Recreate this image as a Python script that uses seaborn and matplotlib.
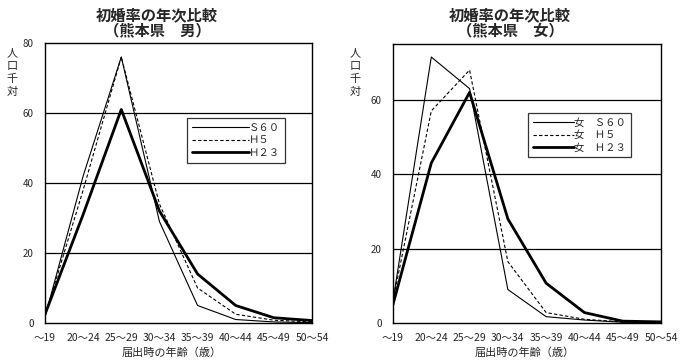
import matplotlib
matplotlib.use("Agg")
import matplotlib.pyplot as plt
import seaborn as sns
import pandas as pd

# age groups (x categories)
ages = ['～19', '20～24', '25～29', '30～34', '35～39', '40～44', '45～49', '50～54']

# male first-marriage rates (per 1000)
male_s60 = [1.7, 42, 76, 29, 5, 1, 0.3, 0.1]
male_h5 = [2, 38, 76, 34, 10, 2.5, 0.8, 0.3]
male_h23 = [2.5, 31, 61, 32, 14, 5, 1.5, 0.7]

# female first-marriage rates (per 1000)
female_s60 = [6, 71.5, 63, 9, 1.7, 0.8, 0.2, 0.1]
female_h5 = [6, 57, 68, 16.5, 2.8, 1, 0.3, 0.1]
female_h23 = [5, 43, 62, 28, 10.7, 2.8, 0.5, 0.3]

male_labels = ['Ｓ６０', 'Ｈ５', 'Ｈ２３']
female_labels = ['女　Ｓ６０', '女　Ｈ５', '女　Ｈ２３']

sns.set_style("white")
plt.rcParams['font.family'] = ['Noto Sans CJK JP', 'DejaVu Sans']

styles = [dict(lw=0.8, ls='-'), dict(lw=0.8, ls=(0, (3, 2))), dict(lw=2.0, ls='-')]


def draw(ax, series, labels, ymax, yticks, legend_box, hlen):
    for vals, lab, st in zip(series, labels, styles):
        df = pd.DataFrame({'pos': range(len(ages)), 'rate': vals})
        sns.lineplot(data=df, x='pos', y='rate', ax=ax, color='black',
                     linewidth=st['lw'], linestyle=st['ls'], label=lab)
    ax.set_xlim(0, len(ages) - 1)
    ax.set_ylim(0, ymax)
    ax.set_xticks(range(len(ages)))
    ax.set_xticklabels(ages, fontsize=7.5)
    ax.set_yticks(yticks)
    ax.set_yticklabels([str(v) for v in yticks], fontsize=7)
    ax.tick_params(axis='x', direction='in', length=4, width=0.8, pad=7)
    ax.tick_params(axis='y', length=0, pad=8)
    for y in yticks:
        if 0 < y < ymax:
            ax.axhline(y, color='black', lw=0.9)
    for s in ax.spines.values():
        s.set_color('black')
        s.set_linewidth(1.0)
    ax.set_xlabel('')
    ax.set_ylabel('')
    leg = ax.legend(loc='upper left', bbox_to_anchor=legend_box, frameon=True,
                    fancybox=False, edgecolor='black', fontsize=7.5,
                    handlelength=hlen, handletextpad=0.0, borderpad=0.45,
                    labelspacing=0.25, borderaxespad=0)
    leg.get_frame().set_linewidth(0.9)


fig = plt.figure(figsize=(6.89, 3.62), dpi=100)
ax1 = fig.add_axes([45 / 689, 1 - 323 / 362, 267 / 689, 280 / 362])
ax2 = fig.add_axes([393 / 689, 1 - 323 / 362, 268 / 689, 279 / 362])

draw(ax1, [male_s60, male_h5, male_h23], male_labels, 80, [0, 20, 40, 60, 80],
     (0.532, 0.732), 5.5)
draw(ax2, [female_s60, female_h5, female_h23], female_labels, 75, [0, 20, 40, 60],
     (0.504, 0.753), 4)

# titles
fig.text(157 / 689, 1 - 15 / 362, '初婚率の年次比較', ha='center', va='center',
         fontsize=11, fontweight='bold')
fig.text(157 / 689, 1 - 30 / 362, '（熊本県　男）', ha='center', va='center',
         fontsize=11, fontweight='bold')
fig.text(510 / 689, 1 - 15 / 362, '初婚率の年次比較', ha='center', va='center',
         fontsize=11, fontweight='bold')
fig.text(510 / 689, 1 - 30 / 362, '（熊本県　女）', ha='center', va='center',
         fontsize=11, fontweight='bold')

# x axis labels
fig.text(172 / 689, 1 - 353 / 362, '届出時の年齢（歳）', ha='center', va='center',
         fontsize=8)
fig.text(525 / 689, 1 - 353 / 362, '届出時の年齢（歳）', ha='center', va='center',
         fontsize=8)

# vertical y labels
fig.text(12 / 689, 1 - 48 / 362, '人\n口\n千\n対', ha='center', va='top',
         fontsize=8, linespacing=1.35)
fig.text(355 / 689, 1 - 48 / 362, '人\n口\n千\n対', ha='center', va='top',
         fontsize=8, linespacing=1.35)

fig.savefig('out.png', dpi=100)
